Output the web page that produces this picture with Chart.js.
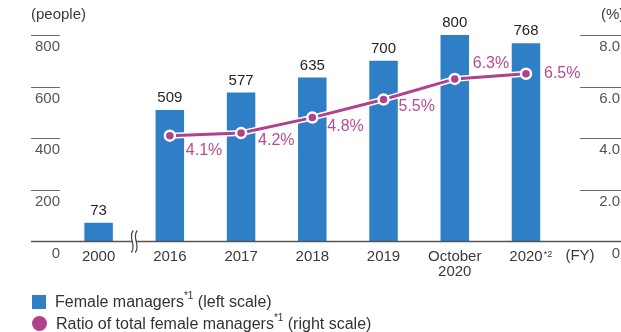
<!DOCTYPE html>
<html>
<head>
<meta charset="utf-8">
<script src="https://cdn.jsdelivr.net/npm/chart.js@4/dist/chart.umd.min.js"></script>
<style>
  html, body { margin: 0; padding: 0; background: #fff; }
  #wrap { position: relative; width: 621px; height: 332px; font-family: "Liberation Sans", Arial, sans-serif; }
  #wrap canvas { position: absolute; left: 0; top: 0; }
  .leg { position: absolute; left: 32px; height: 16px; line-height: 16px; font-size: 16px; color: #333; white-space: nowrap; }
  .leg .mark { display: inline-block; vertical-align: middle; margin-right: 9px; position: relative; top: -1px; }
  .leg .sq { width: 14px; height: 14px; background: #2e7fc6; }
  .leg .dot { width: 15px; height: 15px; border-radius: 50%; background: #b0418d; }
  .leg sup { font-size: 10px; line-height: 0; position: relative; top: -2px; }
</style>
</head>
<body>
<div id="wrap">
  <canvas id="mgrChart" width="621" height="332"></canvas>
  <div class="leg" style="top:294px"><span class="mark sq"></span>Female managers<sup>*1</sup> (left scale)</div>
  <div class="leg" style="top:316px"><span class="mark dot"></span>Ratio of total female managers<sup>*1</sup> (right scale)</div>
</div>
<script>
const years = ['2000', '2016', '2017', '2018', '2019', ['October', '2020'], '2020'];
const managers = [73, 509, 577, 635, 700, 800, 768];
const ratio = [null, 4.1, 4.2, 4.8, 5.5, 6.3, 6.5];
const peopleTicks = [0, 200, 400, 600, 800];
const pctTicks = [0, 2, 4, 6, 8];

const BLUE = '#2e7fc6';
const PURPLE = '#b0418d';
const PURPLE_TEXT = '#b54c93';
const FONT = '"Liberation Sans", Arial, sans-serif';

// where each % label sits relative to its point (dx, dy)
const pctLabelOffset = [null, [16, 15], [17, 8], [15, 9], [15, 7], [18, -15], [18, 0]];

const decorPlugin = {
    id: 'decor',
    beforeDatasetDraw(chart, args) {
        // white halo under the ratio line
        if (args.index !== 0) return;
        const pts = args.meta.data.filter((p, i) => ratio[i] !== null);
        const ctx = chart.ctx;
        ctx.save();
        ctx.strokeStyle = '#fff';
        ctx.lineWidth = 6;
        ctx.lineJoin = 'round';
        ctx.beginPath();
        pts.forEach((p, i) => i ? ctx.lineTo(p.x, p.y) : ctx.moveTo(p.x, p.y));
        ctx.stroke();
        ctx.restore();
    },
    afterDraw(chart) {
        const ctx = chart.ctx;
        const xs = chart.scales.x;
        const yl = chart.scales.y;
        const yr = chart.scales.y1;
        const base = yl.getPixelForValue(0);
        ctx.save();

        // short tick rules above the axis numbers
        ctx.strokeStyle = '#6b6b6b';
        ctx.lineWidth = 1;
        peopleTicks.slice(1).forEach(v => {
            const y = Math.round(yl.getPixelForValue(v)) + 0.5;
            ctx.beginPath(); ctx.moveTo(31, y); ctx.lineTo(60, y); ctx.stroke();
        });
        pctTicks.slice(1).forEach(v => {
            const y = Math.round(yr.getPixelForValue(v)) + 0.5;
            ctx.beginPath(); ctx.moveTo(580, y); ctx.lineTo(621, y); ctx.stroke();
        });

        // baseline
        ctx.strokeStyle = '#555';
        ctx.lineWidth = 1.5;
        ctx.beginPath(); ctx.moveTo(31, base); ctx.lineTo(621, base); ctx.stroke();

        // axis break between 2000 and 2016
        const bx = (xs.getPixelForValue(0) + xs.getPixelForValue(1)) / 2;
        ctx.fillStyle = '#fff';
        ctx.fillRect(bx - 2, base - 2, 4, 4);
        ctx.strokeStyle = '#444';
        ctx.lineWidth = 1.2;
        [-2, 2].forEach(dx => {
            const x = bx + dx;
            ctx.beginPath();
            ctx.moveTo(x + 1, base - 11);
            ctx.bezierCurveTo(x - 5, base - 4, x + 5, base + 4, x - 1, base + 11);
            ctx.stroke();
        });

        // bar values
        ctx.font = '15px ' + FONT;
        ctx.fillStyle = '#231f20';
        ctx.textAlign = 'center';
        ctx.textBaseline = 'middle';
        const bars = chart.getDatasetMeta(1).data;
        bars.forEach((b, i) => ctx.fillText(String(managers[i]), b.x, b.y - 12));

        // ratio values
        ctx.font = '16px ' + FONT;
        ctx.fillStyle = PURPLE_TEXT;
        ctx.textAlign = 'left';
        const pts = chart.getDatasetMeta(0).data;
        pts.forEach((p, i) => {
            if (ratio[i] === null) return;
            const off = pctLabelOffset[i];
            ctx.fillText(ratio[i].toFixed(1) + '%', p.x + off[0], p.y + off[1]);
        });

        // units
        ctx.font = '15px ' + FONT;
        ctx.fillStyle = '#3a3a3a';
        ctx.fillText('(people)', 31, 15);
        ctx.fillText('(%)', 601, 15);
        ctx.textAlign = 'center';
        ctx.fillText('(FY)', 580, 256);

        // footnote mark on the last year
        const lx = xs.getPixelForValue(6) + ctx.measureText('2020').width / 2 + 1;
        ctx.font = '9px ' + FONT;
        ctx.textAlign = 'left';
        ctx.textBaseline = 'top';
        ctx.fillText('*2', lx, 250);

        ctx.restore();
    }
};

new Chart(document.getElementById('mgrChart'), {
    data: {
        labels: years,
        datasets: [{
            type: 'line',
            data: ratio,
            yAxisID: 'y1',
            order: 0,
            borderColor: PURPLE,
            borderWidth: 3,
            pointRadius: 5,
            pointBackgroundColor: PURPLE,
            pointBorderColor: '#fff',
            pointBorderWidth: 2.5,
            tension: 0
        }, {
            type: 'bar',
            data: managers,
            yAxisID: 'y',
            order: 1,
            backgroundColor: BLUE,
            barPercentage: 0.4,
            categoryPercentage: 1
        }]
    },
    options: {
        responsive: false,
        animation: false,
        events: [],
        layout: { padding: { top: 35, left: 0, right: 1, bottom: 0 } },
        plugins: { legend: { display: false }, tooltip: { enabled: false } },
        scales: {
            x: {
                grid: { display: false, drawTicks: false },
                border: { display: false },
                ticks: {
                    color: '#3a3a3a',
                    font: { family: FONT, size: 15, lineHeight: 1 },
                    padding: 8,
                    maxRotation: 0,
                    autoSkip: false
                },
                afterFit: s => { s.height = 90.5; }
            },
            y: {
                position: 'left',
                min: 0,
                max: 800,
                afterBuildTicks: s => { s.ticks = peopleTicks.map(v => ({ value: v })); },
                grid: { display: false, drawTicks: false },
                border: { display: false },
                ticks: {
                    color: '#555',
                    font: { family: FONT, size: 15 },
                    padding: 3,
                    labelOffset: 12
                },
                afterFit: s => { s.width = 63; }
            },
            y1: {
                position: 'right',
                min: 0,
                max: 8,
                afterBuildTicks: s => { s.ticks = pctTicks.map(v => ({ value: v })); },
                grid: { display: false, drawTicks: false },
                border: { display: false },
                ticks: {
                    color: '#555',
                    font: { family: FONT, size: 15 },
                    crossAlign: 'far',
                    labelOffset: 12,
                    callback: v => v === 0 ? '0' : v.toFixed(1)
                },
                afterFit: s => { s.width = 58.4; }
            }
        }
    },
    plugins: [decorPlugin]
});
</script>
</body>
</html>
